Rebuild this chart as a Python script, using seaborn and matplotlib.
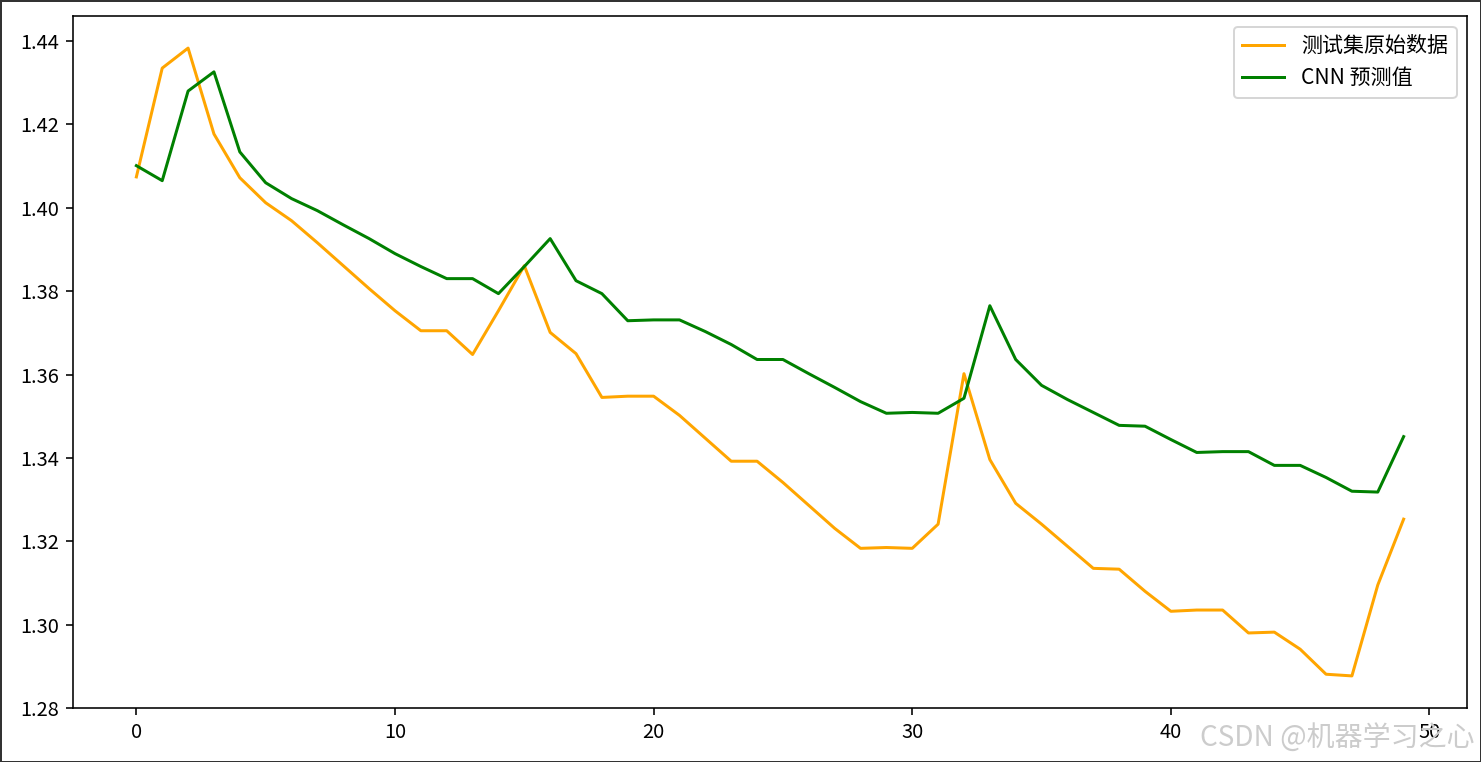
import matplotlib
matplotlib.use("Agg")
import matplotlib.pyplot as plt
import seaborn as sns
import numpy as np

plt.rcParams['font.family'] = ['Noto Sans CJK SC', 'DejaVu Sans']
plt.rcParams['axes.unicode_minus'] = False

# test set original data (orange) and CNN predictions (green)
y_true = [1.4074, 1.4335, 1.4383, 1.4177, 1.4072, 1.4012, 1.3969, 1.3916, 1.3861, 1.3806,
          1.3753, 1.3705, 1.3705, 1.3648, 1.3753, 1.3861, 1.3701, 1.3650, 1.3545, 1.3548,
          1.3548, 1.3502, 1.3447, 1.3392, 1.3392, 1.3341, 1.3286, 1.3231, 1.3183, 1.3185,
          1.3183, 1.3241, 1.3602, 1.3396, 1.3291, 1.3241, 1.3188, 1.3135, 1.3133, 1.3080,
          1.3032, 1.3035, 1.3035, 1.2980, 1.2982, 1.2941, 1.2881, 1.2877, 1.3095, 1.3253]
y_pred = [1.4101, 1.4065, 1.4280, 1.4326, 1.4134, 1.4060, 1.4022, 1.3993, 1.3959, 1.3926,
          1.3890, 1.3859, 1.3830, 1.3830, 1.3794, 1.3859, 1.3926, 1.3825, 1.3794, 1.3729,
          1.3731, 1.3731, 1.3703, 1.3672, 1.3636, 1.3636, 1.3602, 1.3569, 1.3535, 1.3507,
          1.3509, 1.3507, 1.3543, 1.3765, 1.3636, 1.3574, 1.3540, 1.3509, 1.3478, 1.3476,
          1.3444, 1.3413, 1.3415, 1.3415, 1.3382, 1.3382, 1.3353, 1.3320, 1.3318, 1.3451]
labels = ['测试集原始数据', 'CNN 预测值']

x = np.arange(len(y_true))

dpi = 144
fig = plt.figure(figsize=(1481 / dpi, 762 / dpi), dpi=dpi)
ax = fig.add_axes([73 / 1481, 1 - 708 / 762, 1394 / 1481, 692 / 762])

sns.lineplot(x=x, y=y_true, color='orange', label=labels[0], ax=ax)
sns.lineplot(x=x, y=y_pred, color='green', label=labels[1], ax=ax)

ax.set_ylim(1.28, 1.446)
ax.legend(loc='upper right', fontsize=10.5)

fig.text(0.996, 0.0315, 'CSDN @机器学习之心', ha='right', va='center',
         fontsize=14, color='#cccccc')

fig.patch.set_edgecolor('#333333')
fig.patch.set_linewidth(1.5)
fig.savefig('out.png', dpi=dpi, edgecolor=fig.get_edgecolor())
